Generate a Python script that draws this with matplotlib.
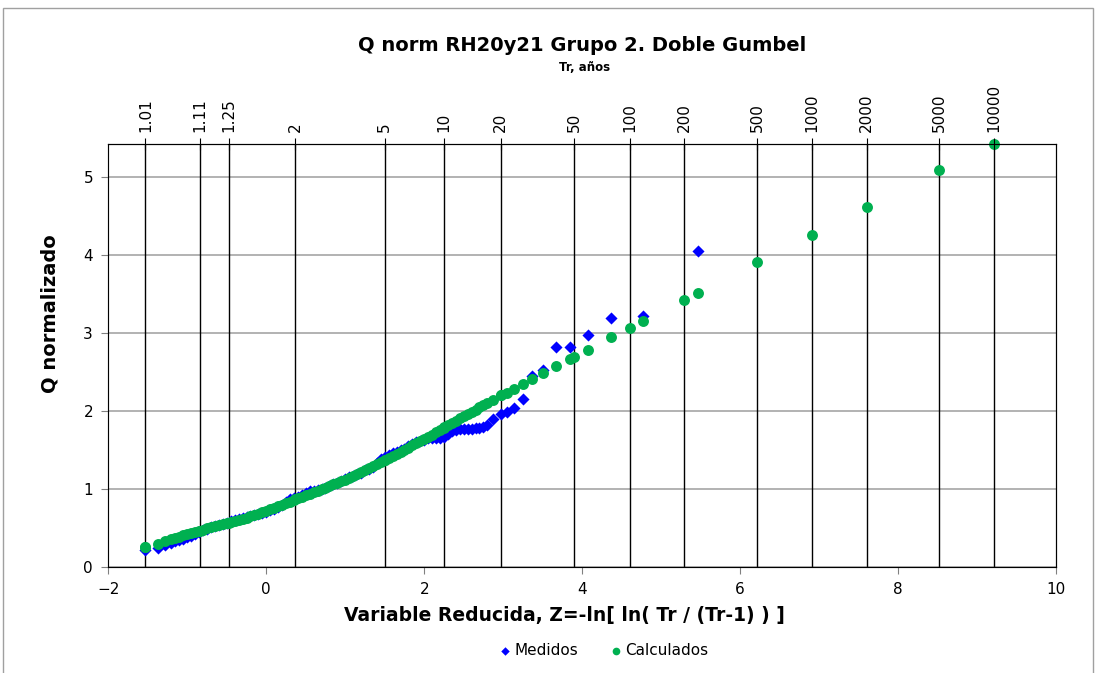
import numpy as np
import matplotlib
matplotlib.use("Agg")
import matplotlib.pyplot as plt
from matplotlib.patches import Rectangle

plt.rcParams['font.family'] = ['DejaVu Sans']

# return periods on the top axis
tr_labels = ['1.01', '1.11', '1.25', '2', '5', '10', '20', '50', '100', '200',
             '500', '1000', '2000', '5000', '10000']
tr_values = np.array([float(t) for t in tr_labels])

# sample (reduced variable) shared by Medidos / Calculados
z_sample = [-1.534, -1.367, -1.28, -1.20, -1.15, -1.10, -1.05, -1.00, -0.95, -0.90,
            -0.85, -0.80, -0.75, -0.70, -0.65, -0.60, -0.55, -0.50, -0.45, -0.40,
            -0.35, -0.30, -0.25, -0.20, -0.15, -0.10, -0.05, 0.00, 0.05, 0.10,
            0.15, 0.20, 0.25, 0.30, 0.35, 0.40, 0.45, 0.50, 0.55, 0.60,
            0.65, 0.70, 0.75, 0.80, 0.85, 0.90, 0.95, 1.00, 1.05, 1.10,
            1.15, 1.20, 1.25, 1.30, 1.35, 1.40, 1.45, 1.50, 1.55, 1.60,
            1.65, 1.70, 1.75, 1.80, 1.85, 1.90, 1.95, 2.00, 2.05, 2.10,
            2.15, 2.20, 2.25, 2.30, 2.35, 2.40, 2.45, 2.50, 2.55, 2.60,
            2.65, 2.70, 2.75, 2.79, 2.873, 2.967, 3.043, 3.139, 3.245, 3.367,
            3.506, 3.667, 3.844, 4.068, 4.363, 4.772, 5.468]

q_medidos = [0.22, 0.25, 0.28, 0.31, 0.33, 0.345, 0.36, 0.38, 0.40, 0.42,
             0.445, 0.47, 0.49, 0.51, 0.525, 0.54, 0.555, 0.57, 0.585, 0.60,
             0.61, 0.625, 0.64, 0.655, 0.67, 0.68, 0.695, 0.71, 0.73, 0.74,
             0.77, 0.80, 0.84, 0.87, 0.89, 0.90, 0.92, 0.95, 0.97, 0.98,
             0.99, 1.00, 1.02, 1.04, 1.06, 1.08, 1.11, 1.13, 1.15, 1.17,
             1.19, 1.21, 1.24, 1.26, 1.29, 1.33, 1.38, 1.41, 1.44, 1.46,
             1.48, 1.50, 1.52, 1.55, 1.58, 1.60, 1.62, 1.63, 1.65, 1.66,
             1.65, 1.66, 1.67, 1.71, 1.74, 1.76, 1.77, 1.77, 1.77, 1.77,
             1.78, 1.79, 1.80, 1.82, 1.90, 1.96, 1.99, 2.04, 2.16, 2.45,
             2.53, 2.82, 2.83, 2.98, 3.19, 3.22, 4.06]

q_calc_sample = [0.26, 0.30, 0.33, 0.36, 0.375, 0.39, 0.405, 0.42, 0.435, 0.45,
                 0.465, 0.48, 0.495, 0.51, 0.52, 0.535, 0.55, 0.56, 0.575, 0.59,
                 0.605, 0.62, 0.635, 0.65, 0.67, 0.685, 0.70, 0.72, 0.74, 0.76,
                 0.78, 0.80, 0.82, 0.84, 0.86, 0.88, 0.90, 0.92, 0.94, 0.96,
                 0.98, 1.00, 1.02, 1.04, 1.06, 1.08, 1.10, 1.12, 1.145, 1.17,
                 1.195, 1.22, 1.245, 1.27, 1.295, 1.32, 1.345, 1.37, 1.395, 1.42,
                 1.45, 1.48, 1.505, 1.53, 1.56, 1.59, 1.615, 1.64, 1.67, 1.70,
                 1.73, 1.76, 1.79, 1.82, 1.85, 1.88, 1.91, 1.94, 1.965, 1.99,
                 2.02, 2.05, 2.08, 2.11, 2.14, 2.21, 2.24, 2.29, 2.35, 2.41,
                 2.49, 2.58, 2.67, 2.79, 2.95, 3.16, 3.52]

# Calculados also evaluated at the return periods of the top axis
q_calc_tr = [0.26, 0.46, 0.56, 0.87, 1.37, 1.80, 2.21, 2.70, 3.07, 3.43,
             3.91, 4.26, 4.62, 5.10, 5.43]

z_tr = -np.log(np.log(tr_values / (tr_values - 1)))

fig = plt.figure(figsize=(10.97, 6.73), dpi=100)
fig.patches.append(Rectangle((3 / 1097, -0.01), 1090 / 1097, 1 - 8 / 673 + 0.01,
                             transform=fig.transFigure, fill=False,
                             edgecolor='#a0a0a0', linewidth=1))
ax = fig.add_axes([108.3 / 1097, 1 - 567 / 673, (1056 - 108.3) / 1097, (567 - 144) / 673])

ax.set_xlim(-2, 10)
ax.set_ylim(0, 5.43)
ax.set_xticks(np.arange(-2, 11, 2))
ax.set_yticks(np.arange(0, 6, 1))
ax.grid(axis='y', color='#a6a6a6', linewidth=1.2)
ax.set_axisbelow(True)
for z in z_tr:
    ax.axvline(z, color='black', linewidth=1, zorder=1)

ax.scatter(z_sample, q_medidos, marker='D', s=38, color='#0000ff', linewidths=0,
           zorder=3, label='Medidos')
ax.scatter(z_sample, q_calc_sample, marker='o', s=62, color='#00b050', linewidths=0,
           zorder=4, label='Calculados')
ax.scatter(z_tr, q_calc_tr, marker='o', s=62, color='#00b050', linewidths=0,
           zorder=4, clip_on=False)

ax.tick_params(axis='both', direction='out', length=5, color='#808080',
               labelsize=11, pad=6)
for side in ['left', 'bottom']:
    ax.spines[side].set_color('#808080')
for side in ['top', 'right']:
    ax.spines[side].set_color('black')

top = ax.twiny()
top.set_xlim(ax.get_xlim())
top.set_xticks(z_tr)
top.set_xticklabels(tr_labels, rotation=90)
top.tick_params(axis='x', direction='inout', length=9, color='black',
                labelsize=11, pad=4)

ax.set_xlabel('Variable Reducida, Z=-ln[ ln( Tr / (Tr-1) ) ]', fontsize=13.5,
              fontweight='bold')
ax.xaxis.set_label_coords(0.481, -0.093)
ax.set_ylabel('Q normalizado', fontsize=14, fontweight='bold')
ax.yaxis.set_label_coords(-0.051, 0.598)

fig.text(0.531, 0.933, 'Q norm RH20y21 Grupo 2. Doble Gumbel', ha='center',
         va='center', fontsize=14, fontweight='bold')
fig.text(0.533, 0.899, 'Tr, años', ha='center', va='center', fontsize=8.5,
         fontweight='bold')

fig.legend(loc='center', bbox_to_anchor=(0.551, 0.034), ncol=2, frameon=False,
           fontsize=11, handlelength=0.6, handletextpad=0.3, columnspacing=2.2,
           markerscale=0.7)

fig.savefig('out.png', dpi=100)
